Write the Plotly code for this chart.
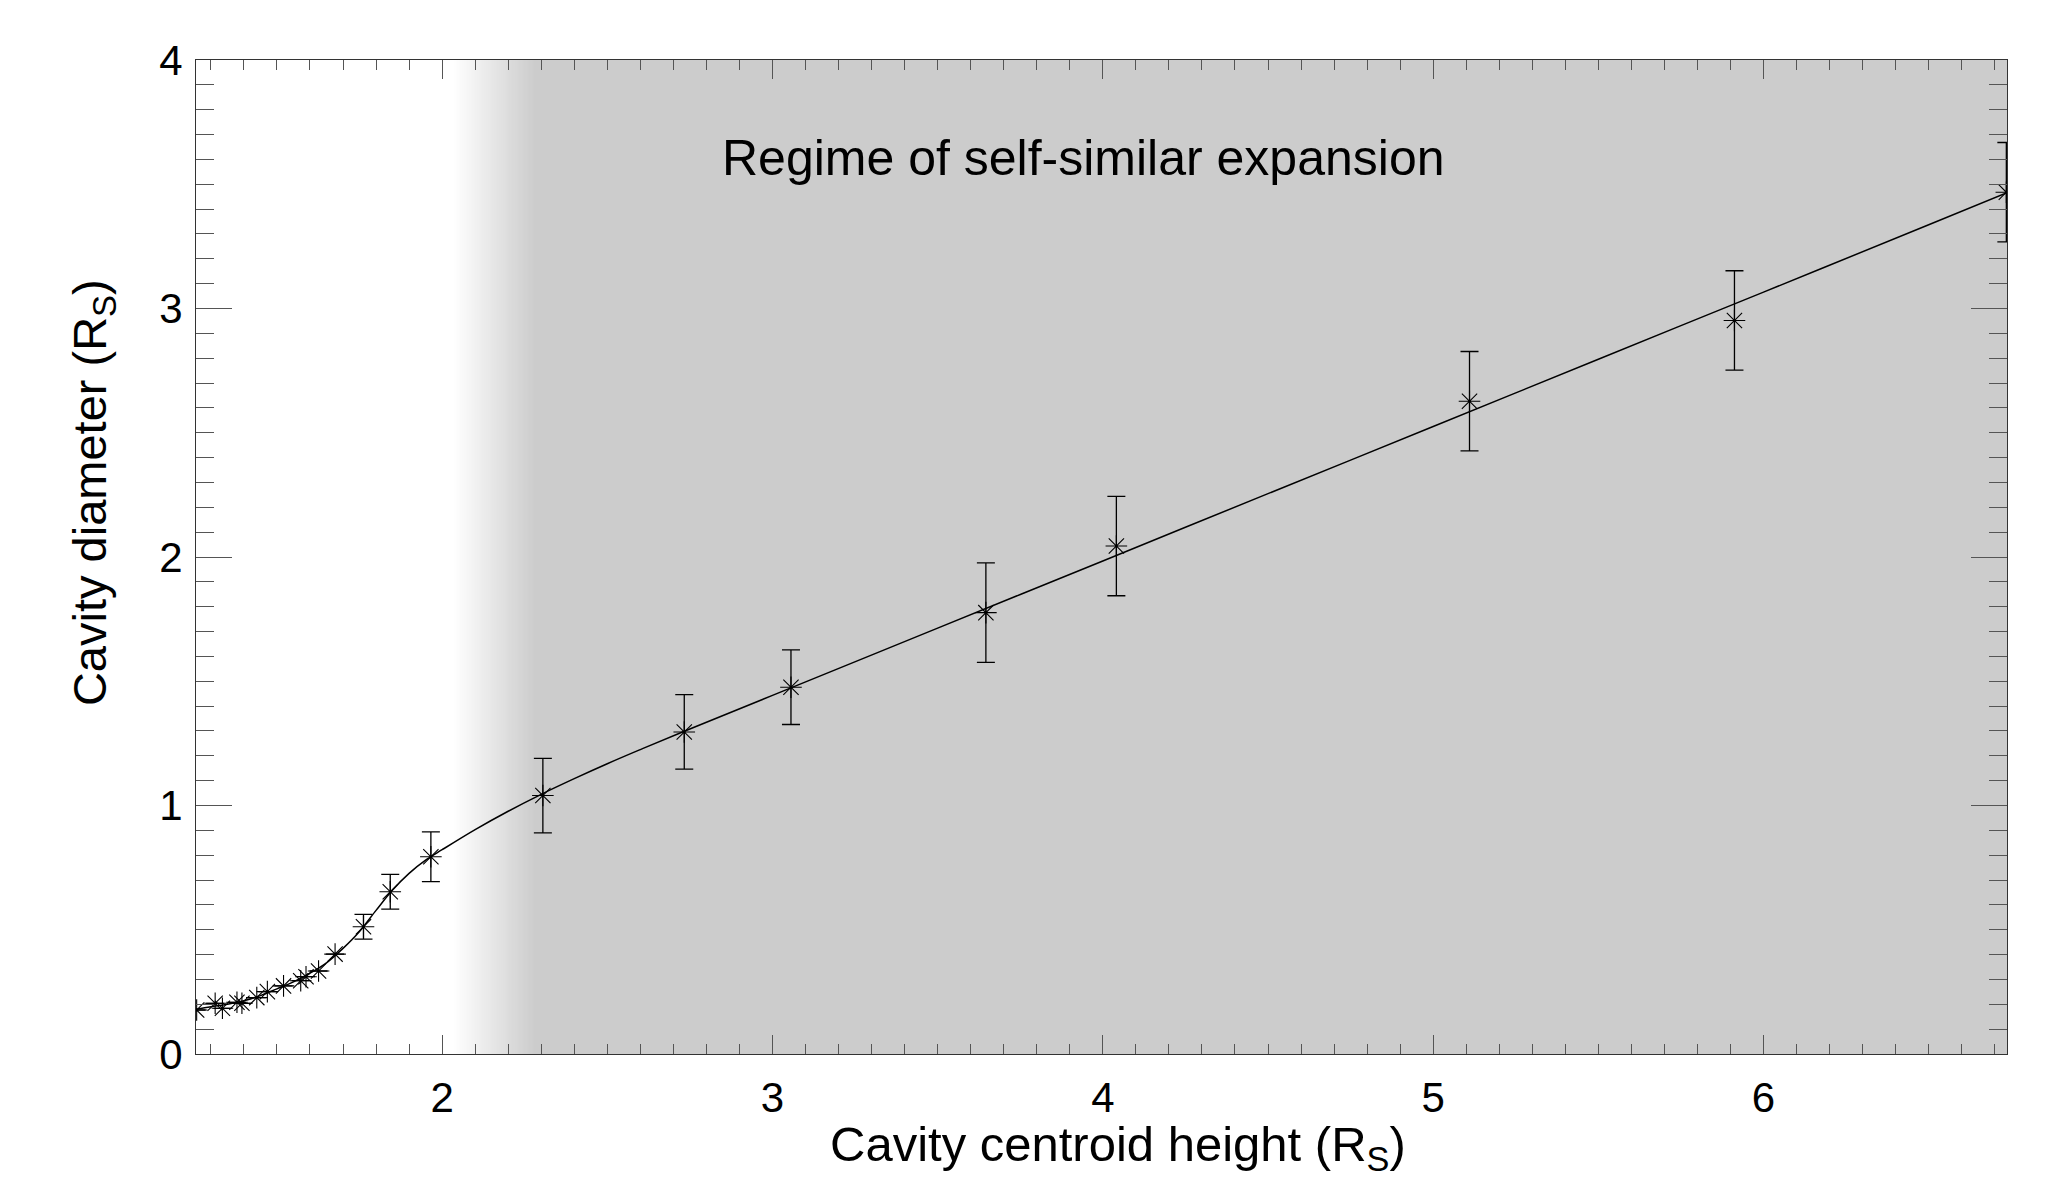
import plotly.graph_objects as go

# ---- data ----
height = [1.257, 1.313, 1.335, 1.379, 1.394, 1.439, 1.471, 1.520, 1.572, 1.588,
          1.626, 1.676, 1.762, 1.843, 1.966, 2.305, 2.733, 3.056, 3.646, 4.041,
          5.110, 5.912, 6.735]
diameter = [0.177, 0.204, 0.184, 0.208, 0.204, 0.227, 0.251, 0.274, 0.295, 0.311,
            0.334, 0.402, 0.512, 0.653, 0.794, 1.040, 1.296, 1.476, 1.776, 2.044,
            2.627, 2.952, 3.468]
diameter_err = [None, None, None, None, None, None, None, None, None, None,
                None, None, 0.05, 0.07, 0.10, 0.15, 0.15, 0.15, 0.20, 0.20,
                0.20, 0.20, 0.20]

# fitted curve
fit_x = [1.255, 1.30, 1.35, 1.40, 1.45, 1.50, 1.55, 1.60, 1.65, 1.70, 1.75, 1.80,
         1.85, 1.90, 1.95, 2.00, 2.10, 2.20, 2.30, 2.40, 2.50, 2.60, 2.735, 3.00,
         3.50, 4.00, 4.50, 5.00, 5.50, 6.00, 6.50, 6.737]
fit_y = [0.180, 0.190, 0.200, 0.214, 0.235, 0.262, 0.290, 0.325, 0.367, 0.425, 0.493, 0.578,
         0.660, 0.727, 0.780, 0.822, 0.903, 0.977, 1.045, 1.108, 1.168, 1.225, 1.300, 1.443,
         1.714, 1.984, 2.255, 2.525, 2.796, 3.066, 3.337, 3.466]

x_range = [1.255, 6.737]
y_range = [0.0, 4.0]
x_ticks = [2, 3, 4, 5, 6]
y_ticks = [0, 1, 2, 3, 4]

regime_start = 2.035   # where shading begins (white)
regime_full = 2.28     # where shading reaches full grey
annotation_text = "Regime of self-similar expansion"
x_title = "Cavity centroid height (R<sub>S</sub>)"
y_title = "Cavity diameter (R<sub>S</sub>)"

FONT = "Liberation Sans, Arial, Helvetica, sans-serif"

fig = go.Figure()

# shaded regime: gradient ramp then solid grey
shapes = []
n = 48
w = (regime_full - regime_start) / n
for i in range(n):
    g = int(round(255 - (255 - 204) * (i + 0.5) / n))
    shapes.append(dict(type="rect", xref="x", yref="y",
                       x0=regime_start + i * w, x1=regime_start + (i + 1) * w + 0.002,
                       y0=y_range[0], y1=y_range[1],
                       fillcolor=f"rgb({g},{g},{g})", line=dict(width=0), layer="below"))
shapes.append(dict(type="rect", xref="x", yref="y",
                   x0=regime_full, x1=x_range[1], y0=y_range[0], y1=y_range[1],
                   fillcolor="rgb(204,204,204)", line=dict(width=0), layer="below"))

fig.add_trace(go.Scatter(x=fit_x, y=fit_y, mode="lines", line_shape="spline",
                         line=dict(color="black", width=1.5), showlegend=False,
                         hoverinfo="skip"))

fig.add_trace(go.Scatter(
    x=height, y=diameter, mode="markers", showlegend=False,
    marker=dict(symbol="asterisk-open", size=18, color="black",
                line=dict(color="black", width=1.1)),
    error_y=dict(type="data", array=diameter_err, visible=True,
                 color="black", thickness=1.3, width=9)))

fig.add_annotation(x=3.943, y=3.606, xref="x", yref="y", text=annotation_text,
                   showarrow=False, font=dict(family=FONT, size=50, color="black"))

# axis titles placed as in the reference
fig.add_annotation(x=0.509, y=-0.094, xref="paper", yref="paper", text=x_title,
                   showarrow=False, xanchor="center", yanchor="middle",
                   font=dict(family=FONT, size=49, color="black"))
fig.add_annotation(x=-0.0565, y=0.565, xref="paper", yref="paper", text=y_title,
                   showarrow=False, xanchor="center", yanchor="middle", textangle=-90,
                   font=dict(family=FONT, size=47, color="black"))

axis_common = dict(showline=True, linecolor="#333333", linewidth=1.2, mirror="allticks",
                   ticks="inside", tickcolor="#555555", tickwidth=1.2,
                   showgrid=False, zeroline=False,
                   tickfont=dict(family=FONT, size=42, color="black"))

fig.update_xaxes(range=x_range, tickvals=x_ticks, ticklen=19,
                 minor=dict(dtick=0.1, ticks="inside", ticklen=10, tickcolor="#555555",
                            tickwidth=1.2, showgrid=False),
                 ticklabelstandoff=6,
                 **axis_common)
fig.update_yaxes(range=y_range, tickvals=y_ticks, ticklen=36,
                 minor=dict(dtick=0.1, ticks="inside", ticklen=18, tickcolor="#555555",
                            tickwidth=1.2, showgrid=False),
                 ticklabelstandoff=4,
                 **axis_common)

fig.update_layout(width=2067, height=1180, paper_bgcolor="white", plot_bgcolor="white",
                  margin=dict(l=196, r=60, t=60, b=126, autoexpand=False),
                  shapes=shapes, showlegend=False)

fig.write_html("out.html")
